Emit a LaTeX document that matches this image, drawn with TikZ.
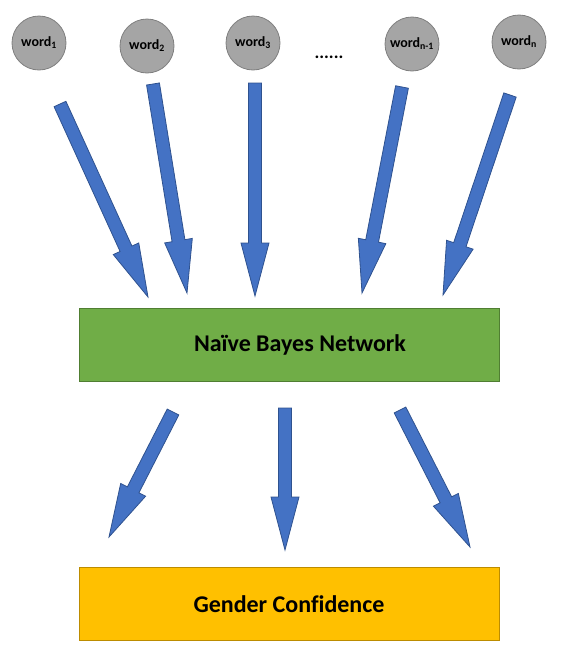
\documentclass[tikz,border=0pt]{standalone}
\usepackage{fontspec}
\setmainfont{Carlito}[Ligatures=NoCommon]
\usetikzlibrary{calc}
\definecolor{wordFill}{HTML}{A5A5A5}
\definecolor{wordLine}{HTML}{7F7F7F}
\definecolor{arrowFill}{HTML}{4472C4}
\definecolor{arrowLine}{HTML}{2F528F}
\definecolor{netFill}{HTML}{70AD47}
\definecolor{netLine}{HTML}{507E32}
\definecolor{outFill}{HTML}{FFC000}
\definecolor{outLine}{HTML}{BC8C00}

\begin{document}
\begin{tikzpicture}
[x=1pt,y=-1pt,
  wordDecorate/.style={shape=circle,minimum size=54pt,inner sep=0pt,draw=wordLine,fill=wordFill,line width=0.8pt,font=\bfseries\fontsize{14}{16}\selectfont},
  boxDecorate/.style={shape=rectangle,minimum width=420pt,minimum height=73pt,inner sep=0pt,line width=0.8pt,font=\bfseries\fontsize{24}{28}\selectfont},
  arrowDecorate/.style={fill=arrowFill,draw=arrowLine,line width=0.8pt}]
\useasboundingbox (0,0) rectangle (563,664);
%% word nodes
\foreach \nodename/\x/\y/\sub in {w1/39/43/1, w2/147/46/2, w3/253/43/3, wn1/412/44/{n-1}, wn/519/42/n} {
  \node (\nodename) at (\x,\y) [wordDecorate] {word\textsubscript{\sub}};
}
\node (dots) at (329,57) [font=\bfseries\fontsize{18}{20}\selectfont] {......};
%% boxes
\node (nb) at (289,345) [boxDecorate,draw=netLine,fill=netFill] {\hspace*{22pt}Naïve Bayes Network};
\node (gc) at (289,604) [boxDecorate,draw=outLine,fill=outFill] {Gender Confidence};
%% arrow ends
\foreach \pointname/\x/\y in {a1/60/104, b1/148/297, a2/153/84, b2/187/293, a3/255/83, b3/255/296,
  a4/402/87, b4/362/293, a5/510/95, b5/443/295,
  c1/173/412, d1/109/537, c2/285/408, d2/285/550, c3/400/410, d3/470/547} {
  \coordinate (\pointname) at (\x,\y);
}
%% block arrows
\foreach \startnode/\endnode in {a1/b1, a2/b2, a3/b3, a4/b4, a5/b5, c1/d1, c2/d2, c3/d3} {
  \path let \p1=($(\endnode)-(\startnode)$), \n1={atan2(\y1,\x1)}, \n2={veclen(\x1,\y1)} in
    \pgfextra{\xdef\arrowangle{\n1}\xdef\arrowlength{\n2}};
  \draw[arrowDecorate,shift={(\startnode)},rotate=\arrowangle]
    (0,-6.5) -- (\arrowlength-53,-6.5) -- (\arrowlength-53,-14) -- (\arrowlength,0)
    -- (\arrowlength-53,14) -- (\arrowlength-53,6.5) -- (0,6.5) -- cycle;
}
\end{tikzpicture}
\end{document}
